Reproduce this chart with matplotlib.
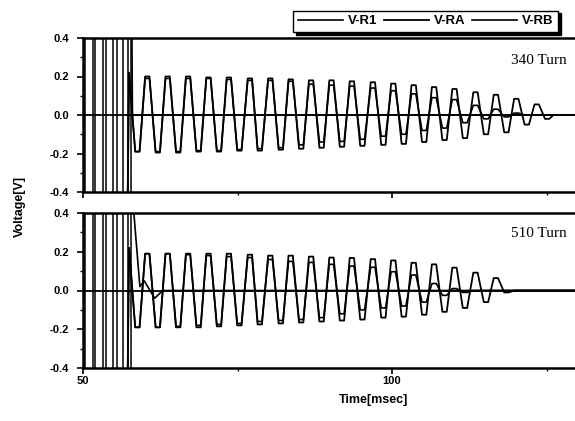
import numpy as np
import matplotlib.pyplot as plt

plt.rcParams['font.family'] = ['Liberation Sans', 'DejaVu Sans']
plt.rcParams['axes.unicode_minus'] = False

# switching pulses of V-R1 (edge times, ms) and their clipped level
pulse_t = [50.0, 50.3, 51.6, 51.9, 53.2, 53.7, 54.9, 55.5, 56.5, 57.3, 57.8]
pulse_v = [1, -1, 1, -1, 1, -1, 1, -1, 1, -1, 1]

# V-R1 after the pulses
r1_top_t = [58.0, 129.6]
r1_top_v = [0.0, 0.0]
r1_bot_t = [58.1, 59.2, 59.9, 61.6, 62.9, 129.6]
r1_bot_v = [0.45, 0.02, 0.05, -0.04, 0.0, 0.0]

# onset spike of the ringing
lead_t = [57.2, 57.45]
lead_v = [-0.5, 0.22]

# times of the extremes of the ringing (ms)
trough_t = [58.8, 62.1, 65.4, 68.7, 72.0, 75.3, 78.6, 82.0, 85.3, 88.6, 91.9,
            95.2, 98.6, 101.9, 105.2, 108.5, 111.8, 115.2, 118.5, 121.8, 125.1]
peak_t = [60.4, 63.7, 67.0, 70.3, 73.6, 77.0, 80.3, 83.6, 86.9, 90.2,
          93.5, 96.9, 100.2, 103.5, 106.8, 110.1, 113.5, 116.8, 120.1, 123.4]

# 340 Turn
ra_top_pk = [0.20, 0.20, 0.20, 0.195, 0.195, 0.19, 0.19, 0.185, 0.18, 0.18,
             0.175, 0.17, 0.163, 0.155, 0.145, 0.135, 0.118, 0.105, 0.084, 0.055]
ra_top_tr = [-0.19, -0.195, -0.195, -0.19, -0.19, -0.185, -0.185, -0.18, -0.175, -0.17,
             -0.165, -0.16, -0.155, -0.15, -0.14, -0.13, -0.12, -0.10, -0.09, -0.05, -0.02]
rb_top_pk = [0.19, 0.19, 0.19, 0.19, 0.185, 0.18, 0.18, 0.175, 0.16, 0.155,
             0.15, 0.14, 0.126, 0.11, 0.09, 0.08, 0.05, 0.03, 0.01, 0.0]
rb_top_tr = [-0.19, -0.19, -0.19, -0.185, -0.185, -0.18, -0.175, -0.17, -0.155, -0.14,
             -0.137, -0.126, -0.11, -0.10, -0.08, -0.068, -0.04, -0.02, -0.01, 0.0, 0.0]

# 510 Turn
ra_bot_pk = [0.19, 0.19, 0.19, 0.19, 0.19, 0.185, 0.18, 0.18, 0.175, 0.17,
             0.168, 0.162, 0.155, 0.143, 0.135, 0.118, 0.092, 0.064, 0.0, 0.0]
ra_bot_tr = [-0.19, -0.19, -0.19, -0.19, -0.185, -0.18, -0.175, -0.17, -0.165, -0.16,
             -0.155, -0.15, -0.14, -0.135, -0.125, -0.11, -0.09, -0.06, -0.01, 0.0, 0.0]
rb_bot_pk = [0.19, 0.19, 0.185, 0.18, 0.175, 0.17, 0.16, 0.15, 0.145, 0.135,
             0.126, 0.12, 0.097, 0.08, 0.036, 0.01, 0.0, 0.0, 0.0, 0.0]
rb_bot_tr = [-0.19, -0.19, -0.185, -0.18, -0.175, -0.17, -0.16, -0.155, -0.15, -0.14,
             -0.12, -0.10, -0.09, -0.08, -0.06, -0.025, -0.01, 0.0, 0.0, 0.0, 0.0]

xmax = 129.6
flat = 0.35  # half width of the flat top drawn at each extreme


def ringing(pk, tr):
    t, v = list(lead_t), list(lead_v)
    ext_t = [trough_t[0]]
    ext_v = [tr[0]]
    for i in range(len(peak_t)):
        ext_t += [peak_t[i], trough_t[i + 1]]
        ext_v += [pk[i], tr[i + 1]]
    for a, b in zip(ext_t, ext_v):
        t += [a - flat, a + flat]
        v += [b, b]
    t += [ext_t[-1] + 1.0, xmax]
    v += [0.0, 0.0]
    return t, v


fig = plt.figure(figsize=(5.75, 4.21), dpi=100)
ax1 = fig.add_axes([83/575, 1-192/421, 1-83/575, 154/421])
ax2 = fig.add_axes([83/575, 1-368/421, 1-83/575, 155/421])

panels = [(ax1, r1_top_t, r1_top_v, ra_top_pk, ra_top_tr, rb_top_pk, rb_top_tr),
          (ax2, r1_bot_t, r1_bot_v, ra_bot_pk, ra_bot_tr, rb_bot_pk, rb_bot_tr)]

for ax, r1t, r1v, rap, rat, rbp, rbt in panels:
    ax.axhline(0, color='k', lw=1.3)
    ax.step(pulse_t, pulse_v, where='post', color='k', lw=1.1)
    ax.plot([pulse_t[-1]] + r1t, [pulse_v[-1]] + r1v, color='k', lw=1.2, label='V-R1')
    t, v = ringing(rap, rat)
    ax.plot(t, v, color='k', lw=1.3, label='V-RA')
    t, v = ringing(rbp, rbt)
    ax.plot(t, v, color='k', lw=1.2, label='V-RB')

    ax.set_xlim(50, xmax)
    ax.set_ylim(-0.4, 0.4)
    ax.set_xticks([50, 100])
    ax.set_xticks([75, 125], minor=True)
    ax.set_yticks([-0.4, -0.2, 0.0, 0.2, 0.4])
    ax.set_yticklabels(['-0.4', '-0.2', '0.0', '0.2', '0.4'])
    ax.set_yticks(np.arange(-0.3, 0.31, 0.2), minor=True)
    ax.tick_params(which='major', direction='out', length=4, width=1.2,
                   labelsize=8, pad=2)
    ax.tick_params(axis='y', which='major', pad=6)
    ax.tick_params(which='minor', direction='out', length=2.5, width=1)
    for lab in ax.get_yticklabels() + ax.get_xticklabels():
        lab.set_fontweight('bold')
    for s in ['top', 'left', 'bottom']:
        ax.spines[s].set_linewidth(1.8)
    ax.spines['right'].set_visible(False)

ax1.tick_params(axis='x', labelbottom=False)

fig.text(567/575, 1-64/421, '340 Turn', family='Liberation Serif', fontsize=11,
         ha='right', va='baseline')
fig.text(567/575, 1-237/421, '510 Turn', family='Liberation Serif', fontsize=11,
         ha='right', va='baseline')

fig.text(20/575, 1-206/421, 'Voltage[V]', rotation=90, ha='center', va='center',
         fontsize=9, fontweight='bold')
fig.text(374/575, 1-400/421, 'Time[msec]', ha='center', va='center',
         fontsize=9, fontweight='bold')

handles, labels = ax1.get_legend_handles_labels()
leg = fig.legend(handles, labels, loc='upper right', ncol=3,
                 bbox_to_anchor=(565/575, 1-4/421), fontsize=9.5,
                 handlelength=3.4, handletextpad=0.4, columnspacing=0.5,
                 fancybox=False, edgecolor='k', borderpad=0.35,
                 shadow={'color': 'k', 'alpha': 1})
leg.get_frame().set_linewidth(1.0)
for txt in leg.get_texts():
    txt.set_fontweight('bold')

fig.savefig('out.png', dpi=100)
